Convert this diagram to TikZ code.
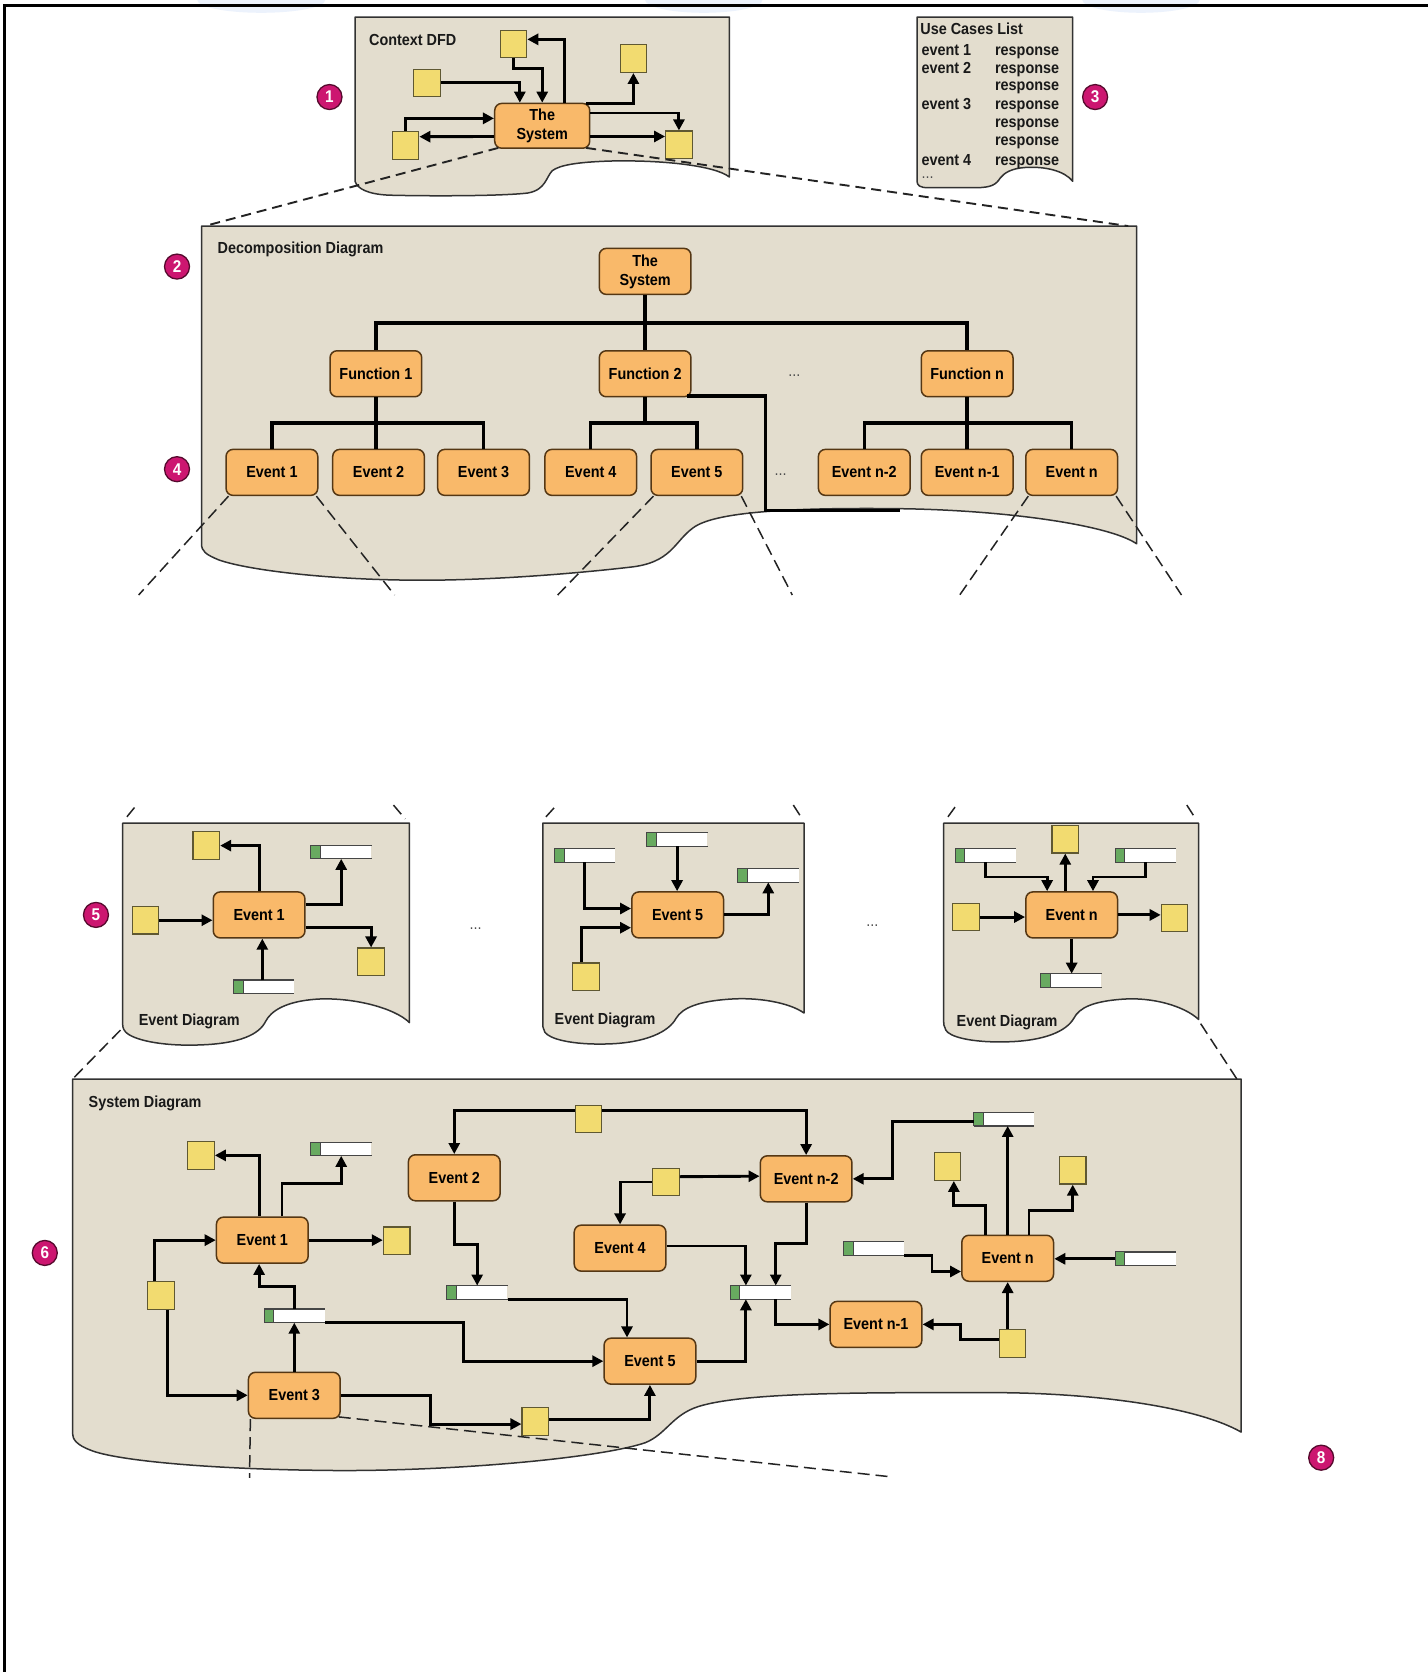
\documentclass[tikz,border=0pt]{standalone}
\usepackage{fontspec}
\setmainfont{Liberation Sans}[FakeStretch=0.9]
\usetikzlibrary{arrows.meta,calc}

\definecolor{panelfill}{RGB}{227,221,206}
\definecolor{paneledge}{RGB}{50,50,50}
\definecolor{procfill}{RGB}{249,185,106}
\definecolor{procedge}{RGB}{85,55,20}
\definecolor{extfill}{RGB}{242,219,112}
\definecolor{extedge}{RGB}{95,88,50}
\definecolor{storegreen}{RGB}{104,170,96}
\definecolor{storeedge}{RGB}{70,70,70}
\definecolor{badgefill}{RGB}{204,22,112}
\definecolor{badgeedge}{RGB}{85,10,45}
\definecolor{inkgrey}{RGB}{35,35,35}
\definecolor{hazeblue}{RGB}{236,242,252}

\newcommand\lbl{\bfseries\fontsize{16}{19}\selectfont}
\newcommand\dotsfont{\fontsize{16}{16}\selectfont}

\tikzset{
  panel/.style={fill=panelfill, draw=paneledge, line width=1.5pt, line join=round},
  proc/.style={rectangle, rounded corners=7pt, fill=procfill, draw=procedge, line width=1.5pt,
    minimum width=91.7pt, minimum height=46pt, inner sep=0pt, font=\lbl, align=center, text=black},
  ext/.style={rectangle, fill=extfill, draw=extedge, line width=1.2pt,
    minimum width=26.5pt, minimum height=27.5pt, inner sep=0pt},
  storebox/.style={rectangle, fill=white, minimum width=60.5pt, minimum height=13.3pt, inner sep=0pt},
  flow/.style={line width=2.9pt, -{Triangle[length=11pt,width=11pt]}},
  tree/.style={line width=3.4pt},
  zoomline/.style={draw=inkgrey, line width=1.9pt, dash pattern=on 10pt off 6pt},
  thinzoom/.style={draw=inkgrey, line width=1.5pt, dash pattern=on 12pt off 6pt},
  badge/.style={circle, fill=badgefill, draw=badgeedge, line width=1.3pt, minimum size=25pt,
    inner sep=0pt, text=white, font=\bfseries\fontsize{17}{17}\selectfont},
  caption/.style={anchor=base west, font=\lbl, inner sep=0pt, text=black!90},
  dotmark/.style={font=\dotsfont, text=black!70, inner sep=0pt},
}

% data store: green tab, open white body with top and bottom rules
\newcommand\datastore[3]{%
  \node[storebox] (#1) at (#2,#3) {};
  \draw[storeedge, line width=1.1pt] (#1.north west) -- (#1.north east)
                                     (#1.south west) -- (#1.south east);
  \filldraw[fill=storegreen, draw=storeedge, line width=1pt]
     (#1.north west) rectangle ($(#1.south west)+(9,0)$);
}

\begin{document}
\begin{tikzpicture}[x=1.0665pt,y=-1.0665pt]
\useasboundingbox (0,0) rectangle (1339,1568);
\fill[white] (0,0) rectangle (1339,1568);

% faint tint along the top edge
\begin{scope}
  \clip (0,0) rectangle (1339,1568);
  \fill[hazeblue] (245,0) ellipse [x radius=60, y radius=12];
  \fill[hazeblue] (660,0) ellipse [x radius=55, y radius=12];
  \fill[hazeblue] (1070,0) ellipse [x radius=55, y radius=12];
\end{scope}

% frame rules
\draw[line width=3pt] (5,5.3) -- (1339,5.3);
\draw[line width=2.3pt] (4.2,4) -- (4.2,1568);

% ---------------- sheets ----------------
\path[panel] (333,16) -- (684,16) -- (684,166)
  .. controls (670,155) and (620,150) .. (573,151)
  .. controls (540,152) and (525,155) .. (518,160)
  .. controls (512,166) and (512,178) .. (495,181)
  .. controls (470,184) and (400,184) .. (364,183)
  .. controls (345,182) and (335,177) .. (333,170) -- cycle;

\path[panel] (860,16) -- (1006,16) -- (1006,170)
  .. controls (998,160) and (980,156) .. (962,157)
  .. controls (948,158) and (942,162) .. (938,167)
  .. controls (934,173) and (930,176) .. (915,176)
  -- (870,176) .. controls (863,176) and (860,174) .. (860,170) -- cycle;

\path[panel] (189,212) -- (1066,212) -- (1066,510)
  .. controls (1040,492) and (940,478) .. (840,477)
  .. controls (740,476) and (670,480) .. (650,495)
  .. controls (632,508) and (630,528) .. (590,532)
  .. controls (520,540) and (440,545) .. (380,544)
  .. controls (300,543) and (230,534) .. (205,525)
  .. controls (193,520) and (189,517) .. (189,510) -- cycle;

\path[panel] (115,772) -- (384,772) -- (384,959)
  .. controls (370,945) and (330,935) .. (297,937)
  .. controls (268,939) and (254,948) .. (249,958)
  .. controls (243,970) and (225,979) .. (185,980)
  .. controls (150,981) and (125,975) .. (118,968)
  .. controls (115,965) and (115,962) .. (115,958) -- cycle;

\path[panel] (509,772) -- (754,772) -- (754,950)
  .. controls (740,940) and (710,935) .. (684,937)
  .. controls (655,939) and (640,945) .. (634,955)
  .. controls (627,968) and (605,978) .. (570,979)
  .. controls (535,980) and (515,974) .. (511,968)
  .. controls (509,965) and (509,962) .. (509,958) -- cycle;

\path[panel] (885,772) -- (1124,772) -- (1124,956)
  .. controls (1110,943) and (1080,935) .. (1053,937)
  .. controls (1025,939) and (1012,945) .. (1007,955)
  .. controls (1000,967) and (980,976) .. (945,977)
  .. controls (910,978) and (890,972) .. (887,966)
  .. controls (885,963) and (885,960) .. (885,956) -- cycle;

\path[panel] (68,1012) -- (1164,1012) -- (1164,1343)
  .. controls (1120,1318) and (1020,1306) .. (930,1306)
  .. controls (820,1306) and (700,1305) .. (655,1319)
  .. controls (630,1327) and (625,1345) .. (605,1353)
  .. controls (560,1368) and (420,1380) .. (310,1379)
  .. controls (200,1378) and (110,1370) .. (85,1360)
  .. controls (72,1355) and (68,1350) .. (68,1344) -- cycle;

% ---------------- badges ----------------
\node[badge] (b1) at (309,91) {1};
\node[badge] (b3) at (1027,91) {3};
\node[badge] (b2) at (166,250) {2};
\node[badge] (b4) at (166,440) {4};
\node[badge] (b5) at (90,858) {5};
\node[badge] (b6) at (42,1175) {6};
\node[badge] (b8) at (1239,1367) {8};

% ---------------- context DFD ----------------
\node[caption] (capCtx) at (346,43) {Context DFD};
\node[proc, minimum width=95pt, minimum height=44.8pt] (ctxSys) at (508.5,118) {The\\System};
\node[ext] (cxTop) at (481.5,41.4) {};
\node[ext] (cxLU) at (400.5,77.7) {};
\node[ext] (cxTR) at (594,55) {};
\node[ext] (cxLL) at (380.3,136.4) {};
\node[ext] (cxRL) at (636.7,135.8) {};

\draw[flow] ($(ctxSys.north)+(20.5,0)$) |- ($(cxTop.east)+(0,-4.5)$);
\draw[flow] (cxTop.south) -- ++(0,9.5) -| (ctxSys.north);
\draw[flow] (cxLU.east) -| ($(ctxSys.north)+(-21,0)$);
\draw[flow] ($(ctxSys.north east)+(-4,1)$) -| (cxTR.south);
\draw[flow] (cxLL.north) |- ($(ctxSys.west)+(0,-7)$);
\draw[flow] ($(ctxSys.west)+(0,10)$) -- ($(cxLL.east)+(0,-8.2)$);
\draw[flow] ($(ctxSys.east)+(0,-12)$) -| (cxRL.north);
\draw[flow] ($(ctxSys.east)+(0,10)$) -- ($(cxRL.west)+(0,-7.8)$);

% ---------------- use cases list ----------------
\node[caption] (ucTitle) at (863,32.5) {Use Cases List};
\node[caption] (ucE1) at (864,52) {event 1};
\node[caption] (ucR1) at (933,52) {response};
\node[caption] (ucE2) at (864,68.5) {event 2};
\node[caption] (ucR2) at (933,68.5) {response};
\node[caption] (ucR2b) at (933,85) {response};
\node[caption] (ucE3) at (864,103) {event 3};
\node[caption] (ucR3) at (933,103) {response};
\node[caption] (ucR3b) at (933,119.5) {response};
\node[caption] (ucR3c) at (933,136) {response};
\node[caption] (ucE4) at (864,155.5) {event 4};
\node[caption] (ucR4) at (933,155.5) {response};
\node[dotmark, anchor=west] (ucMore) at (864,167) {...};

% ---------------- decomposition diagram ----------------
\node[caption] (capDec) at (204,238) {Decomposition Diagram};
\node[proc] (dSys) at (605,254.5) {The\\System};
\node[proc] (fA) at (352.5,350.5) {Function 1};
\node[proc] (fB) at (605,350.5) {Function 2};
\node[proc] (fN) at (907,350.5) {Function n};
\node[proc] (dE1) at (255,443) {Event 1};
\node[proc] (dE2) at (355,443) {Event 2};
\node[proc] (dE3) at (453.5,443) {Event 3};
\node[proc] (dE4) at (554,443) {Event 4};
\node[proc] (dE5) at (653.5,443) {Event 5};
\node[proc] (dEn2) at (810.5,443) {Event n-2};
\node[proc] (dEn1) at (907,443) {Event n-1};
\node[proc] (dEn) at (1005,443) {Event n};
\node[dotmark] (decDotsF) at (745,352) {...};
\node[dotmark] (decDotsE) at (732,445) {...};

\draw[tree] (dSys.south) -- (fB.north);
\draw[tree] (fA.north) |- ($(dSys.south)+(0,26)$) -| (fN.north);
\draw[tree] (fA.south) -- (fA.south |- dE2.north);
\draw[tree] (dE1.north) |- ($(fA.south)+(0,24)$) -| (dE3.north);
\draw[tree] (fB.south) -- ++(0,24);
\draw[tree] (dE4.north) |- ($(fB.south)+(0,24)$) -| (dE5.north);
\draw[tree] (fN.south) -- (dEn1.north);
\draw[tree] (dEn2.north) |- ($(fN.south)+(0,24)$) -| (dEn.north);
\draw[tree] ($(fB.south east)+(-4,-1.5)$) -- ++(73,0) -- ++(0,107.5) -- ++(126,0);

% zoom lines: context -> decomposition
\coordinate (decTL) at (192,212);
\coordinate (decTR) at (1058,212);
\draw[zoomline] ($(ctxSys.south west)+(4,-1)$) -- (decTL);
\draw[zoomline] ($(ctxSys.south east)+(-4,-1)$) -- (decTR);

% zoom lines: decomposition -> event diagrams
\coordinate (zA1) at (130,558);  \coordinate (zA2) at (370,558);
\coordinate (zB1) at (523,558);  \coordinate (zB2) at (743,558);
\coordinate (zC1) at (900,558);  \coordinate (zC2) at (1108,558);
\draw[thinzoom] ($(dE1.south west)+(3,0)$) -- (zA1);
\draw[thinzoom] ($(dE1.south east)+(-2,0)$) -- (zA2);
\draw[thinzoom] ($(dE5.south west)+(3,0)$) -- (zB1);
\draw[thinzoom] ($(dE5.south east)+(-2,0)$) -- (zB2);
\draw[thinzoom] ($(dEn.south west)+(3,0)$) -- (zC1);
\draw[thinzoom] ($(dEn.south east)+(-2,0)$) -- (zC2);

% short lead-ins above the event diagrams
\draw[thinzoom] (119,766) -- (128,755);
\draw[thinzoom] (369,755) -- (380,768);
\draw[thinzoom] (512,766) -- (522,755);
\draw[thinzoom] (744,755) -- (753,769);
\draw[thinzoom] (889,766) -- (897,755);
\draw[thinzoom] (1113,755) -- (1122,769);

% zoom lines: event diagrams -> system diagram
\coordinate (sysTL) at (68,1012);
\coordinate (sysTR) at (1160,1012);
\draw[thinzoom] (113,966) -- (sysTL);
\draw[thinzoom] (1126,960) -- (sysTR);

% ---------------- event diagram: Event 1 ----------------
\node[caption] (capEvA) at (130,962) {Event Diagram};
\node[proc] (eA) at (243,858) {Event 1};
\node[ext] (aSqL) at (136.5,863) {};
\node[ext] (aSqT) at (193.5,793) {};
\node[ext] (aSqR) at (348,902) {};
\datastore{aStT}{320}{799}
\datastore{aStB}{247.5}{925.5}
\draw[flow] (aSqL.east) -- ($(eA.west)+(0,5)$);
\draw[flow] (eA.north) |- (aSqT.east);
\draw[flow] ($(eA.east)+(0,-10)$) -| (aStT.south);
\draw[flow] ($(eA.east)+(0,12)$) -| (aSqR.north);
\draw[flow] ($(aStB.north)+(-1.5,0)$) -- ($(eA.south)+(3,0)$);
\node[dotmark] (evDots1) at (446,871) {...};

% ---------------- event diagram: Event 5 ----------------
\node[caption] (capEvB) at (520,961) {Event Diagram};
\node[proc] (eB) at (635.5,858) {Event 5};
\datastore{bStL}{548.5}{802}
\datastore{bStT}{635}{787}
\datastore{bStR}{720.5}{821}
\node[ext] (bSq) at (549.5,916) {};
\draw[flow] (bStL.south) |- ($(eB.west)+(0,-6)$);
\draw[flow] (bStT.south) -- (bStT.south |- eB.north);
\draw[flow] (eB.east) -| (bStR.south);
\draw[flow] ($(bSq.north)+(-4,0)$) |- ($(eB.west)+(0,12)$);
\node[dotmark] (evDots2) at (818,868) {...};

% ---------------- event diagram: Event n ----------------
\node[caption] (capEvC) at (897,962.5) {Event Diagram};
\node[proc] (eC) at (1005,858) {Event n};
\node[ext] (cSqL) at (906,860) {};
\node[ext] (cSqR) at (1101.5,861) {};
\node[ext] (cSqT) at (999,787) {};
\datastore{cStL}{924.5}{802}
\datastore{cStR}{1074.5}{802}
\datastore{cStB}{1004.5}{919.5}
\draw[flow] (cSqL.east) -- (cSqL.east -| eC.west);
\draw[flow] (eC.east) -- (eC.east -| cSqR.west);
\draw[flow] (cSqT.south |- eC.north) -- (cSqT.south);
\draw[flow] (cStL.south) -- ++(0,14) -| ($(eC.north)+(-23,0)$);
\draw[flow] (cStR.south) -- ++(0,14) -| ($(eC.north)+(20,0)$);
\draw[flow] (eC.south) -- (eC.south |- cStB.north);

% ---------------- system diagram ----------------
\node[caption] (capSys) at (83,1039) {System Diagram};
\node[proc] (s1) at (246,1163) {Event 1};
\node[proc] (s2) at (426,1104.5) {Event 2};
\node[proc] (s3) at (276,1308.5) {Event 3};
\node[proc] (s4) at (581.5,1170.5) {Event 4};
\node[proc] (s5) at (609.5,1276.5) {Event 5};
\node[proc] (sn2) at (756,1105.5) {Event n-2};
\node[proc] (sn1) at (821.5,1242) {Event n-1};
\node[proc] (sn) at (945,1180) {Event n};

\node[ext] (q1) at (188.5,1083.5) {};
\node[ext] (q2) at (372,1163.5) {};
\node[ext] (q3) at (151,1215) {};
\node[ext] (q4) at (502,1333) {};
\node[ext] (q5) at (552,1049.5) {};
\node[ext] (q6) at (624.5,1108.5) {};
\node[ext] (q7) at (888.5,1094) {};
\node[ext] (q8) at (1006,1097.5) {};
\node[ext] (q9) at (949.5,1260) {};

\datastore{t1}{320}{1077.5}
\datastore{t2}{276.5}{1234}
\datastore{t3}{447.5}{1212}
\datastore{t4}{713.5}{1212}
\datastore{t5}{941.5}{1049.5}
\datastore{t6}{819.5}{1171}
\datastore{t7}{1074.5}{1180.5}

% zoom lines out of Event 3
\coordinate (s3Low) at (234,1386);
\coordinate (s3Far) at (836,1385);
\draw[thinzoom] ($(s3.south west)+(2.5,0)$) -- (s3Low);
\draw[thinzoom] ($(s3.south east)+(-2,-2)$) -- (s3Far);

% flows
\draw[flow] ($(s1.north)+(-2.5,0)$) |- (q1.east);
\draw[flow] ($(s1.north)+(18.5,0)$) -- ++(0,-31) -| (t1.south);
\draw[flow] (s1.east) -- (s1.east -| q2.west);
\draw[flow] ($(q3.north)+(-6,0)$) |- (s1.west);
\draw[flow] ($(q3.south)+(6,0)$) |- (s3.west);
\draw[flow] (s3.north) -- (s3.north |- t2.south);
\draw[flow] (t2.north) -- ++(0,-21.5) -| ($(s1.south)+(-3,0)$);
\draw[flow] (t2.south east) -- ++(130,0) |- (s5.west);
\draw[flow] (s3.east) -- ++(84,0) |- ($(q4.west)+(0,2.5)$);
\draw[flow] ($(q4.east)+(0,-1.5)$) -| (s5.south);
\draw[flow] ($(q5.west)+(0,-8.5)$) -| (s2.north);
\draw[flow] ($(q5.east)+(0,-8.5)$) -| (sn2.north);
\draw[flow] (s2.south) -- ++(0,40) -| (t3.north);
\draw[flow] (t3.south east) -| ($(s5.north)+(-21.5,0)$);
\draw[flow] (q6.west) -| (s4.north);
\draw[flow] ($(q6.east)+(0,-5)$) -- ($(sn2.west)+(0,-2.5)$);
\draw[flow] ($(s4.east)+(0,-2)$) -| ($(t4.north)+(-14,0)$);
\draw[flow] (sn2.south) -- ++(0,38.5) -| ($(t4.north)+(14,0)$);
\draw[flow] (s5.east) -| ($(t4.south)+(-14,0)$);
\draw[flow] ($(t4.south)+(14,0)$) |- (sn1.west);
\draw[flow] ($(t5.west)+(0,2)$) -- ++(-76,0) |- (sn2.east);
\draw[flow] (sn.north) -- (sn.north |- t5.south);
\draw[flow] ($(sn.north)+(-20.5,0)$) -- ++(0,-27) -| ($(q7.south)+(6,0)$);
\draw[flow] ($(sn.north)+(20,0)$) -- ++(0,-22.5) -| (q8.south);
\draw[flow] ($(t6.east)+(0,6)$) -- ++(26,0) |- ($(sn.west)+(0,12.4)$);
\draw[flow] (t7.west) -- (t7.west -| sn.east);
\draw[flow] (q9.north -| sn.south) -- (sn.south);
\draw[flow] ($(q9.west)+(0,-3.5)$) -- ++(-36,0) |- (sn1.east);

\end{tikzpicture}
\end{document}
